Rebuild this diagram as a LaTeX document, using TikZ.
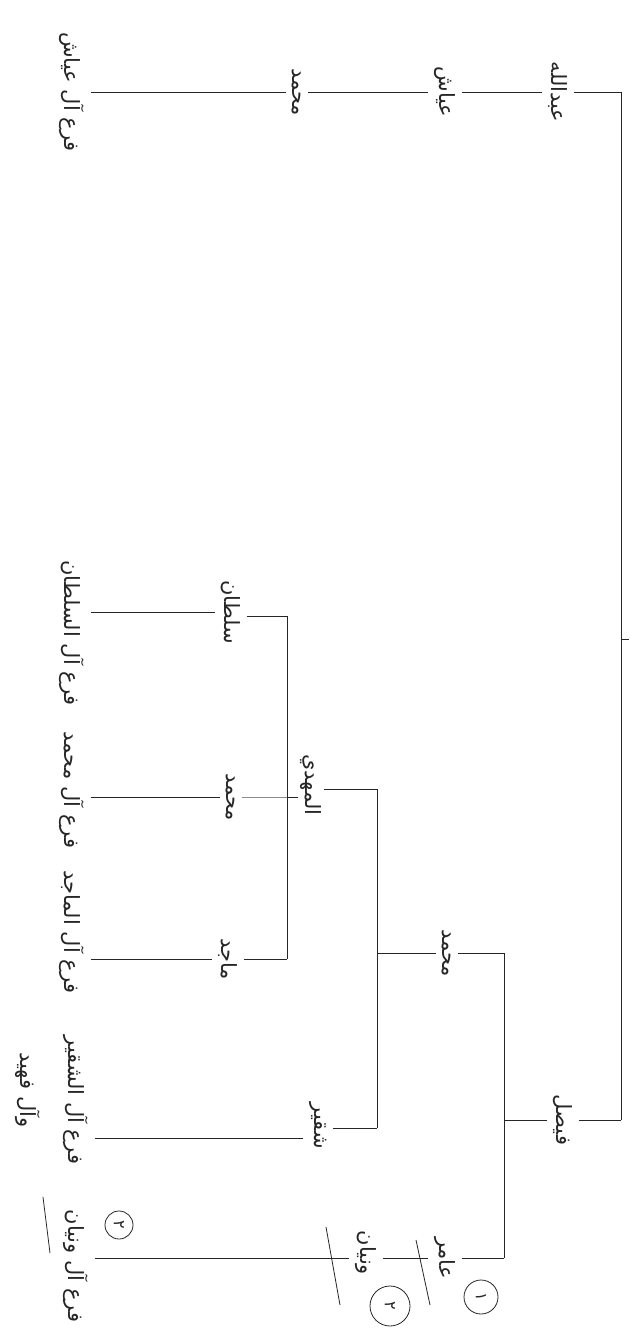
\documentclass[tikz,border=0pt]{standalone}
\usepackage{fontspec}
\newfontfamily\arabicfont[Script=Arabic]{DejaVu Sans}
\TeXXeTstate=1
\newcommand{\artxt}[1]{\beginR #1\endR}
\tikzset{
  person/.style={rotate=-90, font=\arabicfont\fontsize{21}{24}\selectfont, inner sep=6pt, text=black!85},
  branchlbl/.style={rotate=-90, font=\arabicfont\fontsize{21}{24}\selectfont, inner sep=6pt, text=black!85},
  link/.style={line width=0.8pt, draw=black!85},
  faint/.style={line width=0.8pt, draw=black!45},
  numc/.style={circle, draw=black!85, line width=0.8pt, rotate=-90, inner sep=0pt,
               font=\arabicfont\fontsize{16}{18}\selectfont, text=black!85},
  slashline/.style={line width=0.8pt, draw=black!85}
}
\begin{document}
\begin{tikzpicture}[x=1pt,y=-1pt]
\useasboundingbox[fill=white] (0,0) rectangle (629,1340);

% bar coordinates
\coordinate (rT) at (621,92);
\coordinate (rB) at (621,1120);
\coordinate (rK) at (621,639);
\coordinate (rKe) at (629,639);
\coordinate (b2T) at (504,953);
\coordinate (b2M) at (504,1120);
\coordinate (b2B) at (504,1258);
\coordinate (b3T) at (377,789);
\coordinate (b3B) at (377,1128);
\coordinate (b3M) at (377,953);
\coordinate (b4T) at (287,616);
\coordinate (b4M) at (287,797);
\coordinate (b4B) at (287,959);
\coordinate (shqL) at (318,1138);

% top chain
\node[person] (abd) at (558,92) {\artxt{عبدالله}};
\node[person] (ayy) at (445,92) {\artxt{عياش}};
\node[person] (mh1) at (297,92) {\artxt{محمد}};
\node[branchlbl] (fay) at (72,92) {\artxt{فرع آل عياش}};

% faisal branch
\node[person] (fsl) at (563,1120) {\artxt{فيصل}};
\node[person] (mh2) at (447,953) {\artxt{محمد}};
\node[person] (amr) at (445,1258) {\artxt{عامر}};
\node[person] (wny) at (366,1253) {\artxt{ونيان}};
\node[branchlbl] (fwn) at (76,1266) {\artxt{فرع آل ونيان}};

\node[person, inner sep=2pt] (mhd) at (311,785) {\artxt{المهدي}};
\node[person] (shq) at (318,1126) {\artxt{شقير}};
\node[branchlbl] (fshq) at (76,1100) {\artxt{فرع آل الشقير}};
\node[branchlbl] (wf) at (28,1090) {\artxt{وآل فهيد}};

\node[person] (slt) at (231,612) {\artxt{سلطان}};
\node[person] (mh3) at (231,797) {\artxt{محمد}};
\node[person] (mjd) at (228,959) {\artxt{ماجد}};
\node[branchlbl] (fslt) at (72,633) {\artxt{فرع آل السلطان}};
\node[branchlbl] (fmh) at (72,790) {\artxt{فرع آل محمد}};
\node[branchlbl] (fmj) at (72,932) {\artxt{فرع آل الماجد}};

% circled numbers
\node[numc, minimum size=34pt] (c1) at (481,1297) {١};
\node[numc, minimum size=40pt] (c2) at (390,1306) {٢};
\node[numc, minimum size=28pt] (c3) at (119,1225) {٢};

% bars
\draw[link] (rT) -- (rB);
\draw[link] (rK) -- (rKe);
\draw[link] (b2T) -- (b2B);
\draw[link] (b3T) -- (b3B);
\draw[link] (b4T) -- (b4B);

% top chain links
\draw[link] (abd.north) -- (rT);
\draw[link] (ayy.north) -- (abd.south);
\draw[link] (mh1.north) -- (ayy.south);
\draw[link] (fay.north |- mh1) -- (mh1.south);

% faisal links
\draw[link] (fsl.north) -- (rB);
\draw[link] (fsl.south) -- (b2M);
\draw[link] (mh2.north) -- (b2T);
\draw[link] (amr.north |- b2B) -- (b2B);
\draw[link] (wny.north |- b2B) -- (amr.south |- b2B);
\draw[link] (fwn.north |- b2B) -- (wny.south |- b2B);

\draw[link] (mh2.south) -- (b3M);
\draw[link] (mhd.north |- b3T) -- (b3T);
\draw[link] (shq.north |- b3B) -- (b3B);
\draw[link] (fshq.north |- shqL) -- (shq.south |- shqL);

\draw[link] (mhd.south |- b4M) -- (b4M);
\draw[link] (slt.north |- b4T) -- (b4T);
\draw[faint] (mh3.north) -- (b4M);
\draw[link] (mjd.north) -- (b4B);
\draw[link] (fslt.north |- slt) -- (slt.south);
\draw[link] (fmh.north |- mh3) -- (mh3.south);
\draw[link] (fmj.north |- mjd) -- (mjd.south);

% slash marks and underline
\draw[slashline] (416,1240) -- (430,1305);
\draw[slashline] (326,1227) -- (340,1305);
\draw[slashline] (43,1197) -- (50,1253);
\end{tikzpicture}
\end{document}
